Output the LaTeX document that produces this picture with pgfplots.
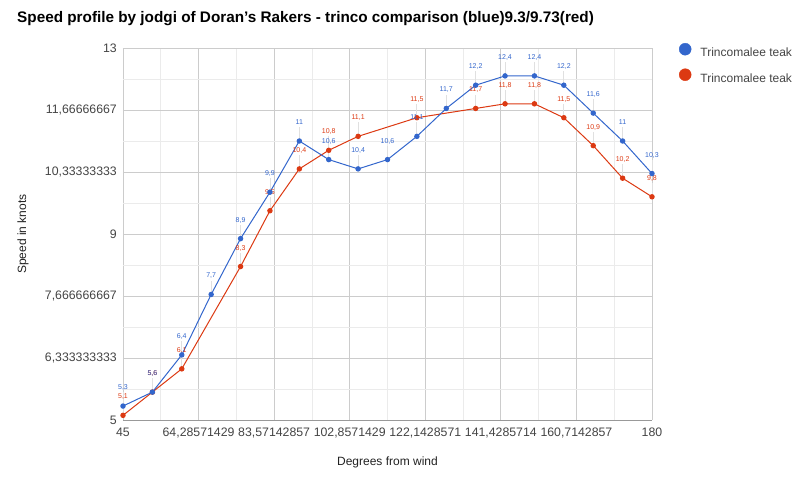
\documentclass[border=0pt]{standalone}
\usepackage{fontspec}
\setmainfont{Liberation Sans}
\usepackage{pgfplots}
\pgfplotsset{compat=1.18}
\definecolor{gblue}{HTML}{3366CC}
\definecolor{gred}{HTML}{DC3912}
\definecolor{ticklab}{HTML}{444444}
\definecolor{axtitle}{HTML}{222222}
\definecolor{gridmaj}{HTML}{CCCCCC}
\definecolor{gridmin}{HTML}{EBEBEB}
\definecolor{baseln}{HTML}{999999}
\definecolor{stem}{HTML}{E0E0E0}

\begin{document}
\begin{tikzpicture}
\useasboundingbox (0pt,0pt) rectangle (811pt,485pt);
\node[anchor=west, inner sep=0pt, font=\fontsize{15.3}{17}\selectfont\bfseries]
  at (17pt,466.5pt) {Speed profile by jodgi of Doran's Rakers - trinco comparison (blue)9.3/9.73(red)};
\begin{axis}[
  at={(123pt,65pt)}, anchor=south west,
  width=529pt, height=372pt, scale only axis,
  xmin=45, xmax=180, ymin=5, ymax=13,
  clip=false,
  axis line style={draw=none},
  xtick={45,64.2857142857,83.5714285714,102.857142857,122.142857143,141.428571429,160.714285714,180},
  xticklabels={45,{64,28571429},{83,57142857},{102,8571429},{122,1428571},{141,4285714},{160,7142857},180},
  ytick={5,6.33333333333,7.66666666667,9,10.3333333333,11.6666666667,13},
  yticklabels={5,{6,333333333},{7,666666667},9,{10,33333333},{11,66666667},13},
  extra y ticks={5}, extra y tick labels={},
  extra y tick style={grid=major, major grid style={draw=baseln, line width=0.8pt}},
  minor x tick num=1, minor y tick num=1,
  grid=both,
  major grid style={draw=gridmaj, line width=0.8pt},
  minor grid style={draw=gridmin, line width=0.8pt},
  major tick length=0pt, minor tick length=0pt,
  tick label style={font=\fontsize{12.3}{14}\selectfont, text=ticklab, inner sep=0pt},
  xticklabel style={anchor=north, yshift=-7.5pt},
  yticklabel style={anchor=east, xshift=-6pt},
  xlabel={Degrees from wind}, ylabel={Speed in knots},
  label style={font=\fontsize{12}{14}\selectfont, text=axtitle, inner sep=0pt},
  x label style={at={(axis description cs:0.5,-0.1129)}, anchor=center},
  y label style={at={(axis description cs:-0.1890,0.5)}, anchor=center, rotate=0},
  /pgf/number format/assume math mode=true,
  /pgf/number format/use comma,
  legend image code/.code={\fill[#1] (6pt,4.2pt) circle (6pt);},
  legend style={draw=none, fill=none, inner sep=0pt, outer sep=0pt,
    at={(axis description cs:1,1)}, anchor=north west, xshift=27pt, yshift=5pt,
    font=\fontsize{12}{14}\selectfont, text=ticklab,
    nodes={inner sep=0pt}, row sep=10pt, column sep=9pt},
  legend cell align=left,
]
\addlegendimage{gblue}
\addlegendentry{Trincomalee teak}
\addlegendimage{gred}
\addlegendentry{Trincomalee teak}

% red series (some angles have no value)
\addplot[gred, line width=1pt, mark=*, mark size=2.2pt, forget plot,
  nodes near coords, point meta=y,
  every node near coord/.append style={font=\fontsize{7}{8}\selectfont, text=gred,
    inner sep=0pt, anchor=base, yshift=16.5pt},
  error bars/.cd, y dir=plus, y fixed=0.3, error mark=none,
  error bar style={draw=stem, line width=0.8pt}]
coordinates {
  (45,5.1) (52.5,5.6) (60,6.1) (75,8.3) (82.5,9.5) (90,10.4) (97.5,10.8)
  (105,11.1) (120,11.5) (135,11.7) (142.5,11.8) (150,11.8) (157.5,11.5)
  (165,10.9) (172.5,10.2) (180,9.8)
};
% blue series
\addplot[gblue, line width=1pt, mark=*, mark size=2.2pt, forget plot,
  nodes near coords, point meta=y,
  every node near coord/.append style={font=\fontsize{7}{8}\selectfont, text=gblue,
    inner sep=0pt, anchor=base, yshift=16.5pt},
  error bars/.cd, y dir=plus, y fixed=0.3, error mark=none,
  error bar style={draw=stem, line width=0.8pt}]
coordinates {
  (45,5.3) (52.5,5.6) (60,6.4) (67.5,7.7) (75,8.9) (82.5,9.9) (90,11)
  (97.5,10.6) (105,10.4) (112.5,10.6) (120,11.1) (127.5,11.7) (135,12.2)
  (142.5,12.4) (150,12.4) (157.5,12.2) (165,11.6) (172.5,11) (180,10.3)
};
\end{axis}
\end{tikzpicture}
\end{document}
